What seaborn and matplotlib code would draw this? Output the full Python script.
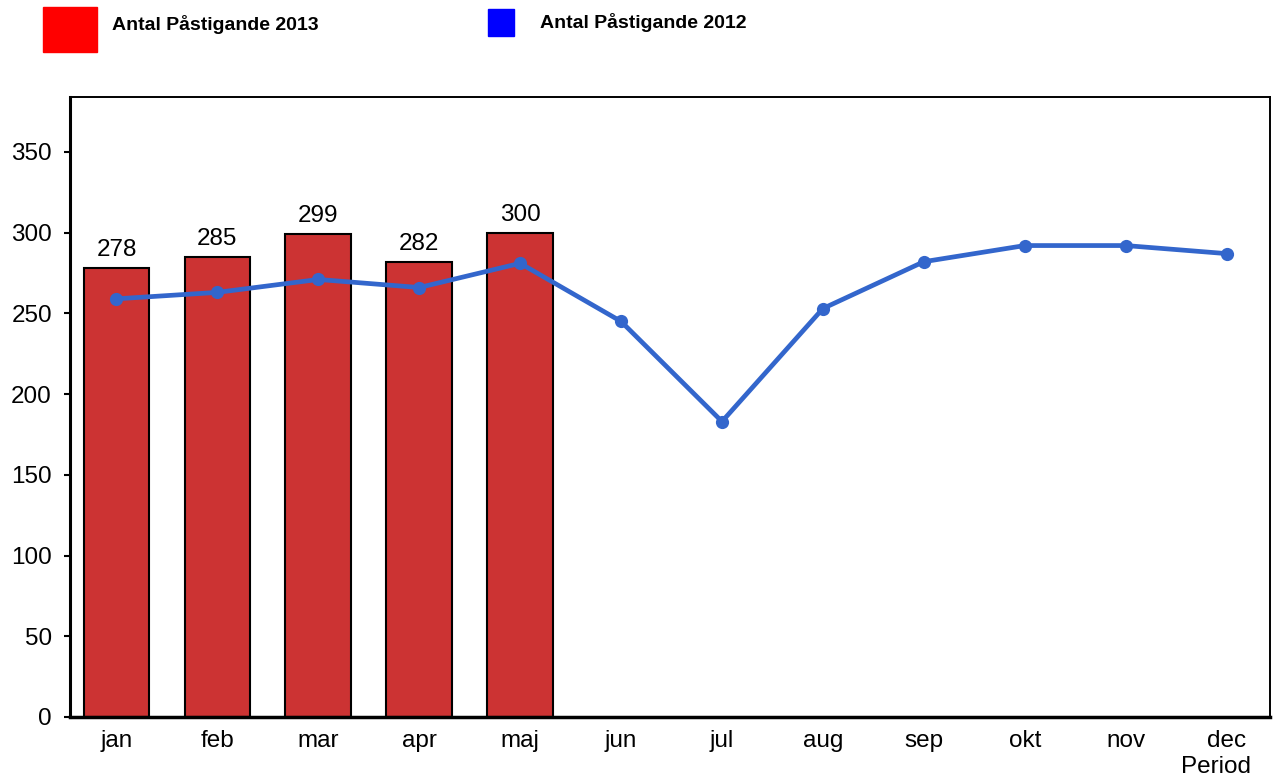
import numpy as np
import pandas as pd
import matplotlib
matplotlib.use("Agg")
import matplotlib.pyplot as plt
from matplotlib.patches import Rectangle
import seaborn as sns

months = ["jan", "feb", "mar", "apr", "maj", "jun", "jul", "aug", "sep", "okt", "nov", "dec"]
bar_months = ["jan", "feb", "mar", "apr", "maj"]
pastigande_2013 = [278, 285, 299, 282, 300]
pastigande_2012 = [259, 263, 271, 266, 281, 245, 183, 253, 282, 292, 292, 287]
yticks = [0, 50, 100, 150, 200, 250, 300, 350]

sns.set_style("white")
plt.rcParams["font.family"] = ["Liberation Sans", "DejaVu Sans"]
plt.rcParams["text.color"] = "black"
plt.rcParams["xtick.color"] = "black"
plt.rcParams["ytick.color"] = "black"

fig = plt.figure(figsize = (12.8, 7.83), dpi = 100)
ax = fig.add_axes([0.0547, 0.0843, 0.9375, 0.7918])

bars = pd.DataFrame({"month": bar_months, "value": pastigande_2013})
sns.barplot(data = bars, x = "month", y = "value", order = months, ax = ax, color = "#CC3333", saturation = 1,
            width = 0.65, edgecolor = "black", linewidth = 1.5)
ax.bar_label(ax.containers[0], labels = [str(v) for v in pastigande_2013], padding = 5, fontsize = 17.5, color = "black")

line = pd.DataFrame({"pos": np.arange(len(months)), "value": pastigande_2012})
sns.lineplot(data = line, x = "pos", y = "value", ax = ax, color = "#3366CC", linewidth = 3.4,
             marker = "o", markersize = 9.5, markeredgewidth = 0, sort = False)

ax.set_xlim(-0.46, 11.43)
ax.set_ylim(0, 384)
ax.set_yticks(yticks)
ax.set_xticks(range(len(months)))
ax.set_xticklabels(months)
ax.tick_params(axis = "y", labelsize = 17.5, left = True, length = 4, width = 1.5, direction = "out", pad = 9)
ax.tick_params(axis = "x", labelsize = 17.5, bottom = False, pad = 6)
ax.set_xlabel("")
ax.set_ylabel("")
for s in ax.spines.values():
    s.set_color("black")
    s.set_linewidth(1.4)
ax.spines["bottom"].set_linewidth(2.5)
ax.spines["left"].set_linewidth(2.2)

fig.text(1216 / 1280, 1 - 767 / 783, "Period", fontsize = 17.5, ha = "center", va = "center")

# legend
fig.add_artist(Rectangle((43 / 1280, 1 - 52 / 783), 54 / 1280, 45 / 783, transform = fig.transFigure, color = "#FF0000"))
fig.text(112 / 1280, 1 - 25 / 783, "Antal Påstigande 2013", fontsize = 14, fontweight = "bold", va = "center")
fig.add_artist(Rectangle((488 / 1280, 1 - 36 / 783), 26 / 1280, 27 / 783, transform = fig.transFigure, color = "#0000FF"))
fig.text(540 / 1280, 1 - 22 / 783, "Antal Påstigande 2012", fontsize = 14, fontweight = "bold", va = "center")

plt.savefig("out.png", dpi = 100)
